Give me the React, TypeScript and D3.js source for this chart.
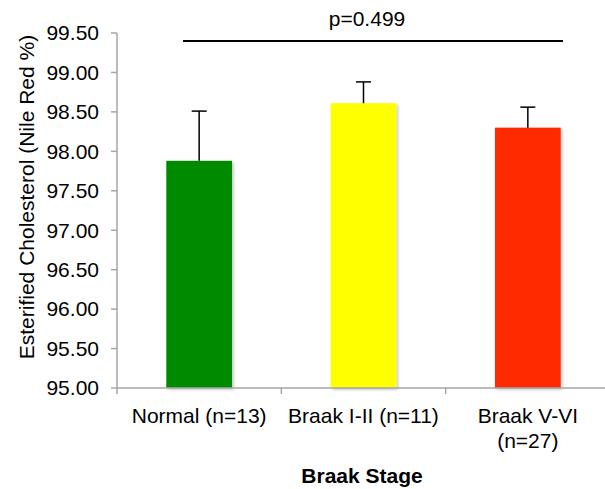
import { useEffect, useRef } from 'react';
import * as d3 from 'd3';

const categories = ['Normal (n=13)', 'Braak I-II (n=11)', 'Braak V-VI (n=27)'];
const means = [97.88, 98.61, 98.30];
const errors = [0.63, 0.27, 0.26];
const colors = ['#008a00', '#ffff00', '#ff2a00'];
const yTicks = [95, 95.5, 96, 96.5, 97, 97.5, 98, 98.5, 99, 99.5];

const App = () => {
    const svgRef = useRef<SVGSVGElement>(null);

    useEffect(() => {
        if (!svgRef.current) return;
        const width = 605, height = 489;
        const svg = d3.select(svgRef.current);
        svg.selectAll('*').remove();

        const left = 117, right = 610, top = 33, bottom = 388;
        const font = '"Liberation Sans", Arial, sans-serif';
        const fs = 21;

        const x = d3.scaleBand().domain(categories).range([left, right]).paddingInner(0).paddingOuter(0);
        const y = d3.scaleLinear().domain([95, 99.5]).range([bottom, top]);

        const defs = svg.append('defs');
        const f = defs.append('filter').attr('id', 'shadow').attr('x', '-20%').attr('y', '-20%').attr('width', '140%').attr('height', '140%');
        f.append('feDropShadow').attr('dx', 1.5).attr('dy', 1.5).attr('stdDeviation', 1.5).attr('flood-color', '#000').attr('flood-opacity', 0.25);

        // y axis
        svg.append('line').attr('x1', left).attr('x2', left).attr('y1', top).attr('y2', bottom)
            .attr('stroke', '#a6a6a6').attr('stroke-width', 1.5);
        yTicks.forEach(t => {
            svg.append('line').attr('x1', left - 6).attr('x2', left).attr('y1', y(t)).attr('y2', y(t))
                .attr('stroke', '#a6a6a6').attr('stroke-width', 1.5);
            svg.append('text').attr('x', 99).attr('y', y(t)).attr('dy', '0.35em')
                .attr('text-anchor', 'end').attr('font-family', font).attr('font-size', fs)
                .text(t.toFixed(2));
        });

        // bars
        const bw = x.bandwidth() * 0.4;
        categories.forEach((c, i) => {
            const cx = x(c)! + x.bandwidth() / 2;
            svg.append('rect').attr('x', cx - bw / 2).attr('y', y(means[i]))
                .attr('width', bw).attr('height', bottom - y(means[i]))
                .attr('fill', colors[i]).attr('filter', 'url(#shadow)');
            const eTop = y(means[i] + errors[i]);
            svg.append('line').attr('x1', cx).attr('x2', cx).attr('y1', y(means[i])).attr('y2', eTop)
                .attr('stroke', '#000').attr('stroke-width', 1.5);
            svg.append('line').attr('x1', cx - 7.5).attr('x2', cx + 7.5).attr('y1', eTop).attr('y2', eTop)
                .attr('stroke', '#000').attr('stroke-width', 1.5);
        });

        // x axis
        svg.append('line').attr('x1', left).attr('x2', right).attr('y1', bottom).attr('y2', bottom)
            .attr('stroke', '#a6a6a6').attr('stroke-width', 1.5);
        [...categories.map(c => x(c)!), right].forEach(px => {
            svg.append('line').attr('x1', px).attr('x2', px).attr('y1', bottom).attr('y2', bottom + 6)
                .attr('stroke', '#a6a6a6').attr('stroke-width', 1.5);
        });

        // category labels
        categories.forEach((c, i) => {
            const cx = x(c)! + x.bandwidth() / 2;
            const t = svg.append('text').attr('text-anchor', 'middle').attr('font-family', font).attr('font-size', fs);
            if (i === 2) {
                t.append('tspan').attr('x', cx).attr('y', 423).text('Braak V-VI');
                t.append('tspan').attr('x', cx).attr('y', 448).text('(n=27)');
            } else {
                t.attr('x', cx).attr('y', 423).text(c);
            }
        });

        // axis titles
        svg.append('text').attr('x', 362).attr('y', 483).attr('text-anchor', 'middle')
            .attr('font-family', font).attr('font-size', fs).attr('font-weight', 'bold').text('Braak Stage');
        svg.append('text').attr('transform', `translate(34, 197) rotate(-90)`)
            .attr('text-anchor', 'middle').attr('font-family', font).attr('font-size', fs)
            .text('Esterified Cholesterol (Nile Red %)');

        // significance line
        svg.append('line').attr('x1', 183).attr('x2', 563).attr('y1', 41).attr('y2', 41)
            .attr('stroke', '#000').attr('stroke-width', 2);
        svg.append('text').attr('x', 367).attr('y', 26).attr('text-anchor', 'middle')
            .attr('font-family', font).attr('font-size', fs).text('p=0.499');

        svg.attr('width', width).attr('height', height);
    }, []);

    return <svg ref={svgRef} width={605} height={489} style={{ position: 'absolute', top: 0, left: 0 }} />;
};

export default App;
